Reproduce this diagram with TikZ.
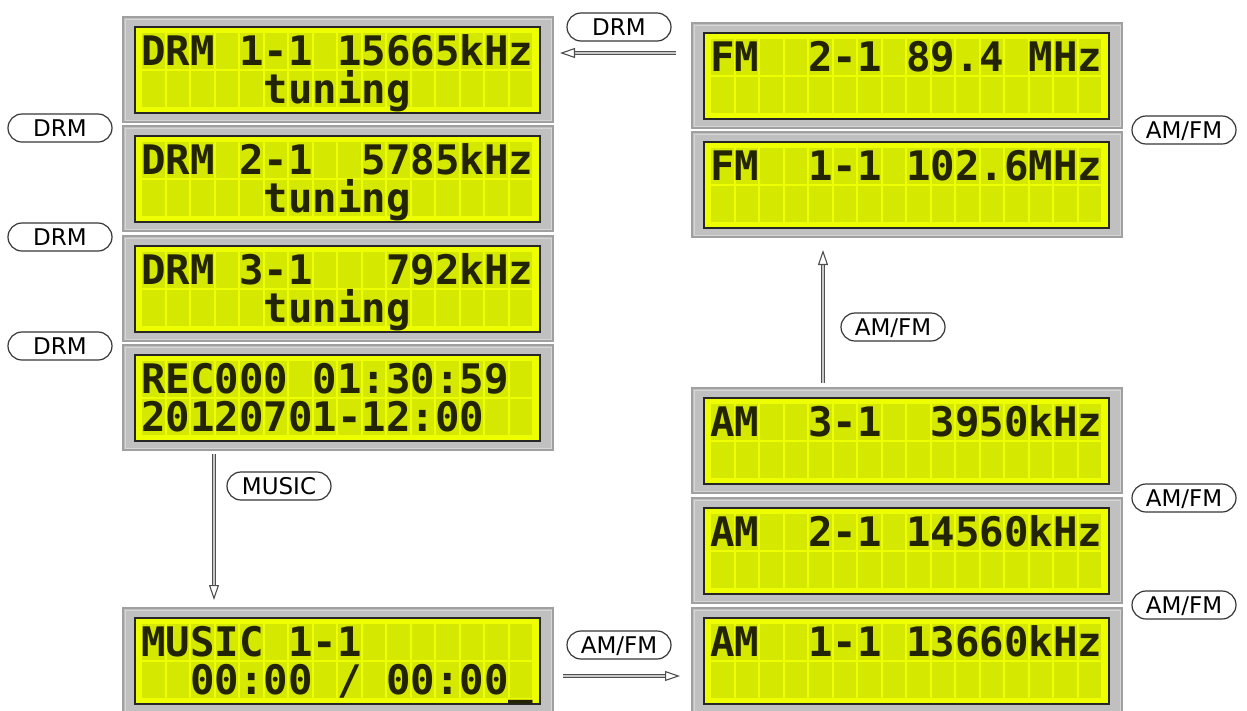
\documentclass[tikz,border=0pt]{standalone}
\usepackage{fontspec}
\usetikzlibrary{arrows.meta}
\newfontfamily\lcdfont{DejaVu Sans Mono Bold}
\newfontfamily\pillfont{DejaVu Sans}
\definecolor{framegray}{RGB}{192,192,192}
\definecolor{frameedge}{RGB}{160,160,160}
\definecolor{framehi}{RGB}{214,214,214}
\definecolor{lcdbg}{RGB}{238,255,0}
\definecolor{lcdcell}{RGB}{213,232,0}
\definecolor{lcdink}{RGB}{35,35,5}
\definecolor{pilledge}{RGB}{55,55,55}
\definecolor{arrdark}{RGB}{80,80,80}
\definecolor{arrlight}{RGB}{200,200,200}
\tikzset{
  panel/.style={draw=frameedge, line width=1.2pt, fill=framegray, minimum width=430pt, minimum height=105pt, inner sep=0pt, outer sep=0pt},
  lcdtext/.style={anchor=base west, inner sep=0pt, text=lcdink, font=\lcdfont\fontsize{40.7}{41}\selectfont},
  pill/.style={draw=pilledge, line width=1.2pt, fill=white, rounded corners=14pt, minimum width=104pt, minimum height=28pt, inner sep=0pt, font=\pillfont\fontsize{23}{23}\selectfont, text height=16.6pt, text depth=0pt},
  arr/.style={draw=arrdark, line width=1.1pt, double=arrlight, double distance=1.4pt, -{Triangle[open, length=15pt, width=10pt, fill=white]}}
}
\newcommand\lcdpanel[5]{%
  \begin{scope}[shift={(#2,#3)}]
    \node[panel] (#1) at (215,52.5) {};
    \draw[framehi, line width=1pt] (2,2) rectangle (428,103);
    \fill[lcdbg] (12,10) rectangle (417,96);
    \foreach \ri in {0,1}{\foreach \ci in {0,...,15}{
      \fill[lcdcell] ({19+\ci*24.5},{16+\ri*38}) rectangle +(22.5,36);}}
    \draw[black!85, line width=1.4pt] (12,10) rectangle (417,96);
    \node[lcdtext] (#1-a) at (18,48.8) {#4};
    \node[lcdtext] (#1-b) at (18,86.8) {#5};
  \end{scope}}
\begin{document}
\begin{tikzpicture}[x=1pt,y=-1pt]
\useasboundingbox (0,0) rectangle (1247,710);
\fill[white] (0,0) rectangle (1247,710);
% left column
\lcdpanel{drma}{123}{17}{DRM~1-1~15665kHz}{~~~~~tuning}
\lcdpanel{drmb}{123}{126}{DRM~2-1~~5785kHz}{~~~~~tuning}
\lcdpanel{drmc}{123}{236}{DRM~3-1~~~792kHz}{~~~~~tuning}
\lcdpanel{rec}{123}{345}{REC000~01:30:59}{20120701-12:00}
\lcdpanel{music}{123}{608}{MUSIC~1-1}{~~00:00~/~00:00\_}
% right column
\lcdpanel{fmb}{692}{23}{FM~~2-1~89.4~MHz}{}
\lcdpanel{fma}{692}{132}{FM~~1-1~102.6MHz}{}
\lcdpanel{amc}{692}{388}{AM~~3-1~~3950kHz}{}
\lcdpanel{amb}{692}{498}{AM~~2-1~14560kHz}{}
\lcdpanel{ama}{692}{608}{AM~~1-1~13660kHz}{}
% labels
\node[pill] (lDRMtop) at (619,27) {DRM};
\node[pill] (lDRMa) at (60,128) {DRM};
\node[pill] (lDRMb) at (60,237) {DRM};
\node[pill] (lDRMc) at (60,346) {DRM};
\node[pill] (lAMFMa) at (1184,130) {AM/FM};
\node[pill] (lAMFMb) at (1184,498) {AM/FM};
\node[pill] (lAMFMc) at (1184,605) {AM/FM};
\node[pill] (lAMFMmid) at (893,327) {AM/FM};
\node[pill] (lMUSIC) at (279,486) {MUSIC};
\node[pill] (lAMFMbot) at (619,645) {AM/FM};
% connector ends
\coordinate (drmS) at (676,53);
\coordinate (drmE) at (560,53);
\coordinate (upS) at (823,383);
\coordinate (upE) at (823,250);
\coordinate (musS) at (214,454);
\coordinate (musE) at (214,600);
\coordinate (amS) at (563,676);
\coordinate (amE) at (680,676);
\draw[arr] (drmS) -- (drmE);
\draw[arr] (upS) -- (upE);
\draw[arr] (musS) -- (musE);
\draw[arr] (amS) -- (amE);
\end{tikzpicture}
\end{document}
